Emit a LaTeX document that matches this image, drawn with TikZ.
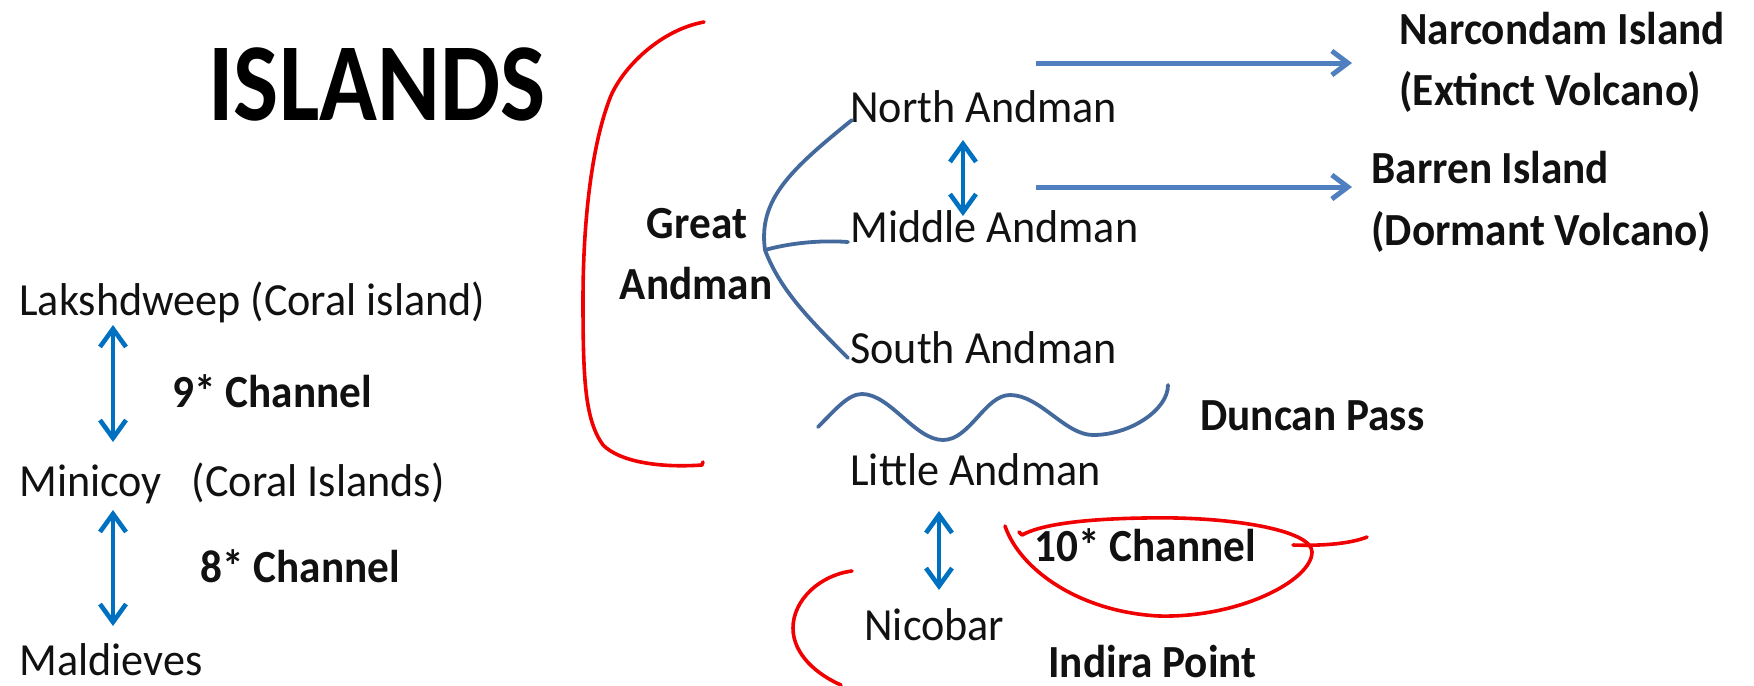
\documentclass[tikz,border=0pt]{standalone}
\usepackage{fontspec}
\setmainfont{Carlito}[FakeStretch=0.96, BoldFeatures={FakeStretch=0.94}]
\newfontfamily\titlefont{Carlito}[FakeStretch=0.86]
\usetikzlibrary{arrows.meta}
\definecolor{txtcol}{HTML}{111111}
\definecolor{dblblue}{HTML}{0070C0}
\definecolor{arrblue}{HTML}{4F7FBF}
\definecolor{curveblue}{HTML}{44699C}
\definecolor{penred}{HTML}{F00000}
\tikzset{
  txt/.style={inner sep=0pt, anchor=base west, text=txtcol, font=\fontsize{23}{27}\selectfont},
  btxt/.style={txt, font=\fontsize{23}{27}\selectfont\bfseries},
  dblarrow/.style={draw=dblblue, line width=2.3pt, {Straight Barb[length=9pt,width=13pt]}-{Straight Barb[length=9pt,width=13pt]}},
  rarrow/.style={draw=arrblue, line width=2.5pt, -{Straight Barb[length=8pt,width=12pt]}},
  branch/.style={draw=curveblue, line width=1.9pt, line cap=round},
  pen/.style={draw=penred, line width=1.8pt, line cap=round, line join=round}
}
\begin{document}
\begin{tikzpicture}[x=0.5pt, y=-0.5pt]
\useasboundingbox (0,0) rectangle (1754,685);
% title
\node[inner sep=0pt, anchor=base west, text=black, font=\titlefont\bfseries\fontsize{55.5}{60}\selectfont] (title) at (208,120) {ISLANDS};
% left column
\node[txt] (lak) at (19,315) {Lakshdweep (Coral island)};
\node[btxt] (ch9) at (172,407) {9* Channel};
\node[txt] (min) at (19,496) {Minicoy\ \ \ (Coral Islands)};
\node[btxt] (ch8) at (200,582) {8* Channel};
\node[txt] (mal) at (19,675) {Maldieves};
\coordinate (a1t) at (113,325); \coordinate (a1b) at (113,442);
\coordinate (a2t) at (113,510); \coordinate (a2b) at (113,626);
\draw[dblarrow] (a1t) -- (a1b);
\draw[dblarrow] (a2t) -- (a2b);
% Andaman group
\node[btxt, anchor=base] (great) at (697,238) {Great};
\node[btxt, anchor=base] (great2) at (696,299) {Andman};
\node[txt] (north) at (850,122) {North Andman};
\node[txt] (middle) at (850,242) {Middle Andman};
\node[txt] (south) at (850,363) {South Andman};
\node[txt] (little) at (850,485) {Little Andman};
\node[txt] (nicobar) at (864,640) {Nicobar};
\node[btxt] (duncan) at (1200,430) {Duncan Pass};
\node[btxt] (ch10) at (1034,561) {10* Channel};
\node[btxt] (indira) at (1048,677) {Indira Point};
\node[btxt] (narc) at (1399,44) {Narcondam Island};
\node[btxt] (narc2) at (1399,105) {(Extinct Volcano)};
\node[btxt] (barren) at (1371,183) {Barren Island};
\node[btxt] (barren2) at (1371,245) {(Dormant Volcano)};
% branch curves
\coordinate (v) at (765,250);
\coordinate (nEnd) at (852,120);
\coordinate (mEnd) at (848,242);
\coordinate (sEnd) at (848,358);
\draw[branch] (v) .. controls (758,200) and (790,170) .. (nEnd);
\draw[branch] (v) .. controls (790,243) and (820,240) .. (mEnd);
\draw[branch] (v) .. controls (780,290) and (810,320) .. (sEnd);
% double arrows in Andaman group
\coordinate (a3t) at (963,140); \coordinate (a3b) at (963,216);
\coordinate (a4t) at (939,511); \coordinate (a4b) at (939,590);
\draw[dblarrow] (a3t) -- (a3b);
\draw[dblarrow] (a4t) -- (a4b);
% right arrows
\coordinate (r1s) at (1036,63); \coordinate (r1e) at (1352,63);
\coordinate (r2s) at (1036,187); \coordinate (r2e) at (1352,187);
\draw[rarrow] (r1s) -- (r1e);
\draw[rarrow] (r2s) -- (r2e);
% wavy line (Duncan Pass)
\coordinate (w0) at (818,427);
\coordinate (w5) at (1168,385);
\draw[branch] (w0) .. controls (835,410) and (848,394) .. (862,394)
  .. controls (890,394) and (915,440) .. (943,440)
  .. controls (970,440) and (985,395) .. (1010,395)
  .. controls (1040,395) and (1065,435) .. (1093,435)
  .. controls (1130,435) and (1168,410) .. (w5);
% red pen marks
\coordinate (b0) at (704,22);
\coordinate (b1) at (702,465);
\draw[pen] (b0) .. controls (660,30) and (622,68) .. (610,98)
  .. controls (590,150) and (583,230) .. (583,300)
  .. controls (583,380) and (585,420) .. (603,445)
  .. controls (620,462) and (660,468) .. (b1) -- (703,462);
\coordinate (c0) at (852,571);
\coordinate (c1) at (841,685);
\draw[pen] (c0) .. controls (820,575) and (793,600) .. (793,628)
  .. controls (793,655) and (818,675) .. (c1);
\coordinate (e0) at (1005,526);
\coordinate (e1) at (1022,535);
\draw[pen] (e0) .. controls (1020,570) and (1080,612) .. (1159,616)
  .. controls (1240,618) and (1312,580) .. (1312,552)
  .. controls (1312,530) and (1230,516) .. (1144,518)
  .. controls (1080,519) and (1040,525) .. (e1) -- (1019,532);
\coordinate (t0) at (1293,545);
\coordinate (t1) at (1367,537);
\draw[pen] (t0) .. controls (1320,546) and (1350,544) .. (t1);
\end{tikzpicture}
\end{document}
